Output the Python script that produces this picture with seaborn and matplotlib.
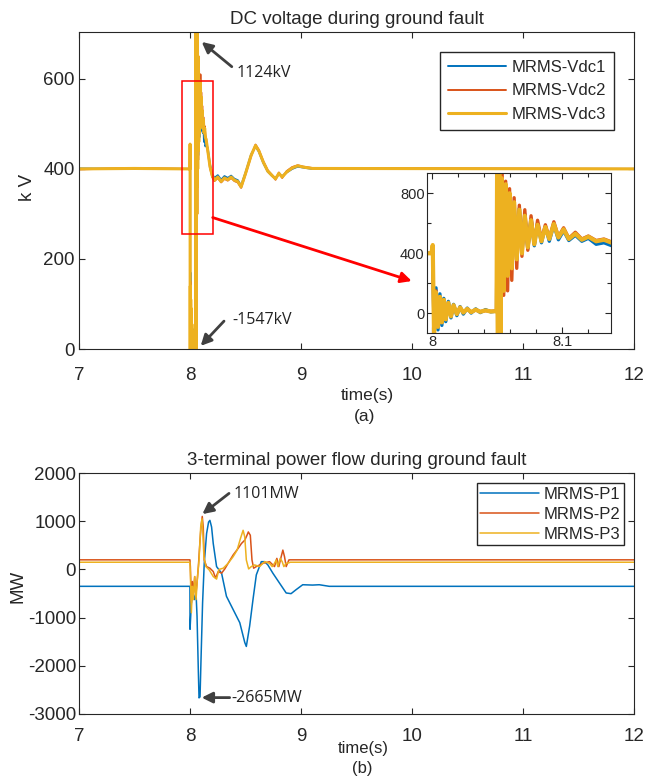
import matplotlib
matplotlib.use("Agg")
import pandas as pd
import matplotlib.pyplot as plt
from matplotlib.patches import Rectangle
from matplotlib.ticker import MultipleLocator
import seaborn as sns

# ----- DC voltage during ground fault (kV) -----
t_v = [7.000, 7.500, 7.990, 7.9995, 8.0005, 8.0015, 8.0030, 8.0045, 8.0060, 8.0075,
       8.0090, 8.0105, 8.0125, 8.0145, 8.0165, 8.0190, 8.0215, 8.0240, 8.0270, 8.0300,
       8.0335, 8.0370, 8.0410, 8.0450, 8.0495, 8.0500, 8.0508, 8.0516, 8.0525, 8.0535,
       8.0550, 8.0565, 8.0580, 8.0595, 8.0612, 8.0630, 8.0650, 8.0670, 8.0690, 8.0712,
       8.0735, 8.0760, 8.0785, 8.0810, 8.0840, 8.0870, 8.0900, 8.0935, 8.0970, 8.1010,
       8.1050, 8.1100, 8.1150, 8.1200, 8.1260, 8.1320, 8.1380, 8.1450, 8.1600, 8.1800,
       8.2000, 8.2200, 8.2500, 8.2800, 8.3100, 8.3400, 8.3700, 8.4000, 8.4300, 8.4600,
       8.5000, 8.5500, 8.5900, 8.6200, 8.6600, 8.7000, 8.7400, 8.7700, 8.8000, 8.8300,
       8.8700, 8.9200, 8.9700, 9.0200, 9.1000, 12.000]
vdc1 = [401, 400, 400, 400, 420, -130, 170, -110, 130, -80,
        100, -55, 80, -30, 60, -15, 45, -5, 35, 2,
        30, 5, 25, 10, 15, 980, -1420, 900, -150, 880,
        250, 820, 300, 760, 320, 720, 380, 700, 410, 660,
        430, 630, 450, 600, 470, 580, 480, 590, 490, 550,
        485, 520, 480, 500, 460, 470, 450, 455, 445, 410,
        388, 380, 386, 376, 384, 380, 385, 378, 375, 363,
        392, 432, 450, 438, 413, 394, 384, 380, 388, 384,
        392, 400, 405, 403, 400, 400]
vdc2 = [399, 402, 400, 400, 440, -140, 150, -80, 100, -50,
        80, -35, 60, -15, 50, 0, 35, 8, 28, 10,
        22, 12, 18, 14, 15, 1050, -1480, 1000, -250, 940,
        120, 880, 150, 830, 220, 770, 300, 720, 380, 690,
        420, 650, 460, 620, 490, 590, 500, 610, 510, 570,
        500, 540, 495, 515, 485, 495, 475, 468, 438, 402,
        382, 373, 380, 370, 378, 374, 380, 373, 370, 358,
        388, 428, 454, 442, 417, 397, 386, 376, 392, 380,
        395, 404, 408, 405, 402, 400]
vdc3 = [400, 401, 400, 400, 455, -150, 140, -90, 110, -60,
        90, -40, 70, -20, 55, -5, 40, 5, 30, 8,
        25, 10, 20, 12, 15, 1124, -1547, 950, -200, 900,
        150, 860, 250, 800, 300, 740, 360, 690, 400, 650,
        440, 620, 460, 590, 480, 575, 495, 595, 505, 560,
        495, 530, 490, 510, 480, 490, 470, 465, 440, 405,
        385, 375, 382, 372, 380, 376, 382, 375, 372, 360,
        390, 430, 452, 440, 415, 395, 385, 378, 390, 382,
        393, 402, 407, 404, 401, 400]
vdc_names = ["MRMS-Vdc1", "MRMS-Vdc2", "MRMS-Vdc3"]

# ----- 3-terminal power flow (MW) -----
t_p1 = [7.000, 7.999, 8.000, 8.012, 8.024, 8.039, 8.054, 8.063, 8.075, 8.081,
        8.090, 8.099, 8.113, 8.128, 8.149, 8.167, 8.179, 8.194, 8.209, 8.239,
        8.284, 8.328, 8.388, 8.448, 8.493, 8.507, 8.537, 8.567, 8.597, 8.642,
        8.672, 8.701, 8.746, 8.806, 8.866, 8.910, 8.955, 9.015, 9.104, 9.164,
        9.254, 12.000]
p1 = [-350, -350, -1242, -694, -454, -625, -488, -968, -2132, -2665,
      -2645, -1858, -694, 128, 745, 984, 1019, 882, 539, 60,
      -77, -557, -831, -1105, -1516, -1598, -1173, -625, -112, 162,
      162, 94, -77, -283, -488, -502, -420, -317, -324, -317,
      -350, -350]
t_p2 = [7.000, 7.999, 8.003, 8.012, 8.021, 8.030, 8.042, 8.051, 8.060, 8.075,
        8.090, 8.099, 8.110, 8.119, 8.128, 8.149, 8.179, 8.209, 8.230, 8.254,
        8.284, 8.313, 8.343, 8.388, 8.433, 8.463, 8.493, 8.513, 8.525, 8.543,
        8.558, 8.573, 8.597, 8.657, 8.716, 8.761, 8.782, 8.800, 8.821, 8.836,
        8.851, 8.866, 8.890, 8.896, 12.000]
p2 = [200, 200, 60, -694, -250, -488, -150, -557, -350, 60,
      608, 882, 1101, 882, 197, 60, 26, -43, -180, -43,
      -77, 11, 128, 300, 437, 539, 608, 710, 779, 710,
      197, 26, 60, 128, 162, 60, 230, 60, 265, 402,
      265, 60, 197, 200, 200]
t_p3 = [7.000, 7.999, 8.003, 8.012, 8.021, 8.030, 8.042, 8.054, 8.066, 8.081,
        8.096, 8.108, 8.113, 8.125, 8.143, 8.173, 8.209, 8.239, 8.260, 8.299,
        8.343, 8.388, 8.424, 8.454, 8.478, 8.493, 8.507, 8.528, 8.552, 8.582,
        8.627, 8.672, 8.716, 8.740, 8.761, 8.776, 8.791, 8.812, 8.830, 8.845,
        8.866, 8.896, 8.900, 12.000]
p3 = [150, 150, -77, -899, -350, -625, -146, -625, -200, 197,
      882, 1053, 882, 265, 60, -10, -146, -200, 0, 26,
      128, 265, 402, 642, 813, 676, 197, 11, 60, 94,
      60, 162, 128, 60, 128, 197, 60, 230, 162, 60,
      128, 142, 150, 150]
p_names = ["MRMS-P1", "MRMS-P2", "MRMS-P3"]

colors = ["#0072BD", "#D95319", "#EDB120"]
dark = "#262626"

dv = pd.concat([pd.DataFrame({"t": t_v, "v": v, "series": n})
                for v, n in zip([vdc1, vdc2, vdc3], vdc_names)], ignore_index=True)
dp = pd.concat([pd.DataFrame({"t": t, "v": v, "series": n})
                for t, v, n in zip([t_p1, t_p2, t_p3], [p1, p2, p3], p_names)], ignore_index=True)

sns.set_style("ticks")
plt.rcParams["font.family"] = ["Liberation Sans", "DejaVu Sans"]
plt.rcParams["font.size"] = 12
plt.rcParams["axes.unicode_minus"] = False

fig = plt.figure(figsize=(6.64, 7.77), dpi=100)
ax1 = fig.add_axes([0.119, 0.5508, 0.836, 0.408])
ax2 = fig.add_axes([0.119, 0.0811, 0.836, 0.310])


def matlab_box(ax, xpad, ypad, size=13.5):
    ax.tick_params(direction="in", top=True, right=True, length=4, width=0.8,
                   labelsize=size, colors=dark)
    ax.tick_params(axis="x", pad=xpad)
    ax.tick_params(axis="y", pad=ypad)
    for s in ax.spines.values():
        s.set_visible(True); s.set_color(dark); s.set_linewidth(0.8)


# ----- (a) DC voltage -----
sns.lineplot(data=dv, x="t", y="v", hue="series", palette=colors, size="series",
             sizes=dict(zip(vdc_names, [1.4, 1.4, 2.2])), estimator=None, sort=False,
             legend=False, ax=ax1)
ax1.set_xlim(7, 12); ax1.set_ylim(0, 704)
ax1.set_xticks(range(7, 13)); ax1.set_yticks([0, 200, 400, 600])
matlab_box(ax1, 13, 3)
ax1.set_title("DC voltage during ground fault", fontsize=13.5, pad=6)
ax1.set_xlabel("time(s)", fontsize=12.5); ax1.xaxis.set_label_coords(0.52, -0.148)
ax1.xaxis.label.set_va("center")
ax1.set_ylabel("k V", fontsize=13.5); ax1.yaxis.set_label_coords(-0.077, 0.51)
ax1.legend(ax1.lines[:3], vdc_names, loc="upper right", fontsize=12, frameon=True,
           fancybox=False, edgecolor=dark, framealpha=1, borderpad=0.45,
           labelspacing=0.53, handlelength=3.5, handletextpad=0.35, borderaxespad=1.2)

ax1.add_patch(Rectangle((7.925, 255), 0.279, 340, fill=False, ec="red", lw=1.1, zorder=5))
ax1.annotate("", xy=(9.997, 151), xytext=(8.204, 292),
             arrowprops=dict(arrowstyle="-|>", color="red", lw=2, mutation_scale=16,
                             shrinkA=0, shrinkB=0))
arrow_kw = dict(arrowstyle="-|>", color="#404040", lw=2, mutation_scale=16, shrinkA=0, shrinkB=0)
ax1.annotate("", xy=(8.105, 682), xytext=(8.376, 627), arrowprops=arrow_kw)
ax1.text(8.42, 612, "1124kV", fontsize=11.5, family="Open Sans", va="center", color="#222222")
ax1.annotate("", xy=(8.096, 7), xytext=(8.306, 62), arrowprops=arrow_kw)
ax1.text(8.385, 64, "-1547kV", fontsize=11.5, family="Open Sans", va="center", color="#222222")

axin = ax1.inset_axes([0.6276, 0.0495, 0.331, 0.505])
sns.lineplot(data=dv, x="t", y="v", hue="series", palette=colors, size="series",
             sizes=dict(zip(vdc_names, [2.4, 2.4, 3.0])), estimator=None, sort=False,
             legend=False, ax=axin)
axin.set_xlim(7.9964, 8.1375); axin.set_ylim(-133, 933)
axin.set_xticks([8, 8.1]); axin.set_xticklabels(["8", "8.1"])
axin.set_yticks([0, 400, 800])
axin.xaxis.set_minor_locator(MultipleLocator(0.02))
axin.yaxis.set_minor_locator(MultipleLocator(200))
matlab_box(axin, 1, 2, size=10.5)
axin.tick_params(which="minor", direction="in", top=True, right=True, length=3, width=0.8, colors=dark)
axin.set_xlabel(""); axin.set_ylabel("")
axin.set_facecolor("white")

# ----- (b) power flow -----
sns.lineplot(data=dp, x="t", y="v", hue="series", palette=colors, estimator=None,
             sort=False, legend=False, linewidth=1.1, ax=ax2)
ax2.set_xlim(7, 12); ax2.set_ylim(-3000, 2000)
ax2.set_xticks(range(7, 13)); ax2.set_yticks(range(-3000, 2001, 1000))
matlab_box(ax2, 10, 2)
ax2.set_title("3-terminal power flow during ground fault", fontsize=13.5, pad=6)
ax2.set_xlabel("time(s)", fontsize=12); ax2.xaxis.set_label_coords(0.512, -0.145)
ax2.xaxis.label.set_va("center")
ax2.set_ylabel("MW", fontsize=13.5); ax2.yaxis.set_label_coords(-0.094, 0.53)
ax2.legend(ax2.lines[:3], p_names, loc="upper right", fontsize=12, frameon=True,
           fancybox=False, edgecolor=dark, framealpha=1, borderpad=0.22,
           labelspacing=0.3, handlelength=3.5, handletextpad=0.3, borderaxespad=0.6)
ax2.annotate("", xy=(8.111, 1149), xytext=(8.351, 1579), arrowprops=arrow_kw)
ax2.text(8.39, 1558, "1101MW", fontsize=11.5, family="Open Sans", va="center", color="#222222")
ax2.annotate("", xy=(8.105, -2660), xytext=(8.357, -2660), arrowprops=arrow_kw)
ax2.text(8.375, -2676, "-2665MW", fontsize=11.5, family="Open Sans", va="center", color="#222222")

fig.text(365 / 664, 1 - 416 / 777, "(a)", ha="center", va="center", fontsize=12.5, color=dark)
fig.text(362 / 664, 1 - 768 / 777, "(b)", ha="center", va="center", fontsize=12, color=dark)

fig.savefig("out.png", dpi=100)
